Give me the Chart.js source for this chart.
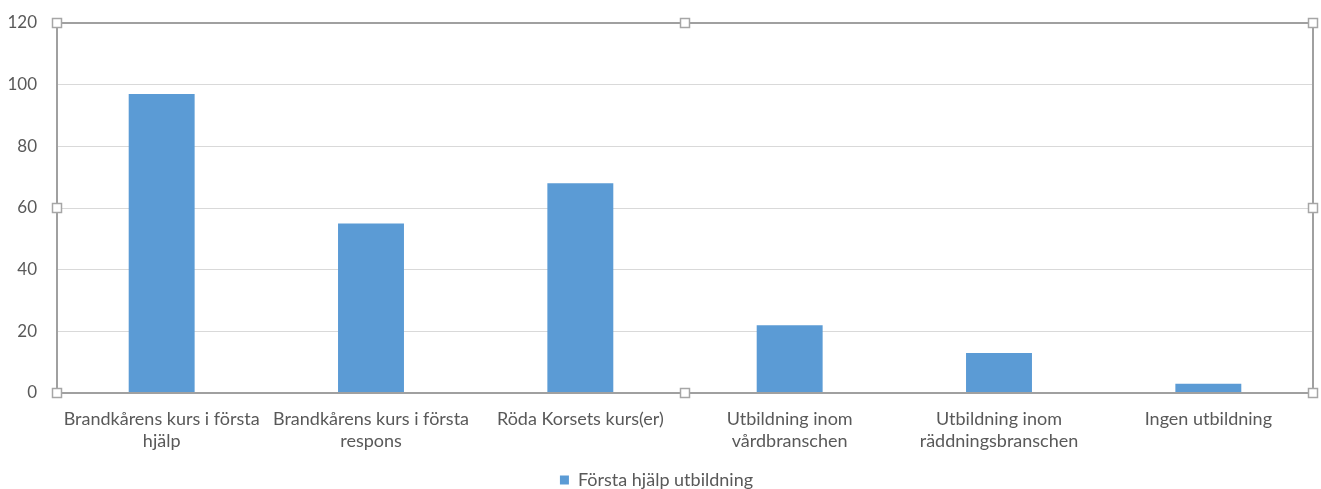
<!DOCTYPE html>
<html lang="sv">
<head>
  <meta charset="UTF-8">
  <title>Första hjälp utbildning</title>
  <script src="https://cdn.jsdelivr.net/npm/chart.js"></script>
  <style>
    html, body { margin: 0; padding: 0; background: #fff; }
    #wrap { width: 1321px; height: 489px; position: relative; }
  </style>
</head>
<body>
  <div id="wrap"><canvas id="chart"></canvas></div>

  <script>
    const categories = [
      ['Brandkårens kurs i första', 'hjälp'],
      ['Brandkårens kurs i första', 'respons'],
      'Röda Korsets kurs(er)',
      ['Utbildning inom', 'vårdbranschen'],
      ['Utbildning inom', 'räddningsbranschen'],
      'Ingen utbildning'
    ];
    const seriesName = 'Första hjälp utbildning';
    const values = [97, 55, 68, 22, 13, 3];
    const yTicks = [0, 20, 40, 60, 80, 100, 120];

    const FONT = 'Lato, "Open Sans", sans-serif';
    const TEXT = '#595959';

    // selection frame + handles around the plot area
    const framePlugin = {
      id: 'frame',
      afterDraw(chart) {
        const { ctx, chartArea: a } = chart;
        ctx.save();
        ctx.strokeStyle = '#a0a0a0';
        ctx.lineWidth = 2;
        ctx.strokeRect(a.left, a.top, a.right - a.left, a.bottom - a.top);
        const mx = (a.left + a.right) / 2, my = (a.top + a.bottom) / 2;
        const pts = [[a.left, a.top], [mx, a.top], [a.right, a.top],
                     [a.left, my], [a.right, my],
                     [a.left, a.bottom], [mx, a.bottom], [a.right, a.bottom]];
        pts.forEach(([x, y]) => {
          ctx.fillStyle = '#fff';
          ctx.fillRect(x - 4.5, y - 4.5, 9, 9);
          ctx.lineWidth = 1.5;
          ctx.strokeStyle = '#a6a6a6';
          ctx.strokeRect(x - 4.5, y - 4.5, 9, 9);
        });
        ctx.restore();
      }
    };

    new Chart(document.getElementById('chart'), {
      type: 'bar',
      data: {
        labels: categories,
        datasets: [{
          label: seriesName,
          data: values,
          backgroundColor: '#5b9bd5',
          borderWidth: 0,
          barPercentage: 0.315,
          categoryPercentage: 1
        }]
      },
      options: {
        responsive: true,
        maintainAspectRatio: false,
        animation: false,
        layout: { padding: { top: 23, right: 8, left: 0, bottom: -10 } },
        plugins: {
          legend: {
            position: 'bottom',
            labels: {
              boxWidth: 9, boxHeight: 9, padding: 2,
              color: TEXT,
              font: { family: FONT, size: 18 }
            }
          },
          tooltip: { enabled: false }
        },
        scales: {
          x: {
            grid: { display: false, drawTicks: false },
            border: { display: false },
            ticks: {
              color: TEXT, padding: 15, maxRotation: 0, autoSkip: false,
              font: { family: FONT, size: 18, lineHeight: 1.22 }
            },
            afterFit(s) { s.height = 76; s.paddingLeft = 0; s.paddingRight = 0; }
          },
          y: {
            min: 0, max: 120,
            afterBuildTicks(s) { s.ticks = yTicks.map(v => ({ value: v })); },
            grid: { color: '#d9d9d9', lineWidth: 1, drawTicks: false },
            border: { display: false },
            ticks: {
              color: TEXT, padding: 20,
              font: { family: FONT, size: 17 }
            },
            afterFit(s) { s.width = 57; s.paddingTop = 0; s.paddingBottom = 0; }
          }
        }
      },
      plugins: [framePlugin]
    });
  </script>
</body>
</html>
